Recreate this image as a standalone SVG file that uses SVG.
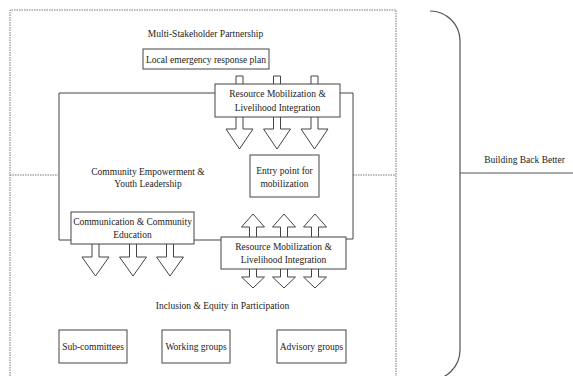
<svg xmlns="http://www.w3.org/2000/svg" width="573" height="376" viewBox="0 0 573 376">
<style>
text{font-family:"Liberation Serif","Times New Roman",serif;font-size:9.5px;fill:#222;text-anchor:middle}
.box{fill:#fff;stroke:#444;stroke-width:1}
.dash{fill:none;stroke:#777;stroke-width:1;stroke-dasharray:1.5 1}
.line{fill:none;stroke:#444;stroke-width:1}
.arr{fill:#fff;stroke:#444;stroke-width:1;stroke-linejoin:miter}
.br{fill:none;stroke:#555;stroke-width:1.2}
</style>
<defs>
<polygon id="down" points="-3.5,0 3.5,0 3.5,53 13.5,53 0,73 -13.5,53 -3.5,53"/>
<polygon id="down2" points="-3.5,0 3.5,0 3.5,17 13.5,17 0,36 -13.5,17 -3.5,17"/>
<polygon id="dbl" points="0,0 11.5,13 3.5,13 3.5,63 11.5,63 0,74 -11.5,63 -3.5,63 -3.5,13 -11.5,13"/>
</defs>
<g id="frame">
<path class="dash" d="M10,376 V10 H396 V376"/>
<path class="dash" d="M10,175 H58 M353,175 H396"/>
</g>
<g id="connectors">
<path class="line" d="M215,93 H59 V240 H71"/>
<path class="line" d="M194,240 H221"/>
<path class="line" d="M340,93 H353 V239 H346"/>
<use href="#down" class="arr" x="239.5" y="76"/>
<use href="#down" class="arr" x="277" y="76"/>
<use href="#down" class="arr" x="314.5" y="76"/>
<use href="#dbl" class="arr" x="253" y="214"/>
<use href="#dbl" class="arr" x="284" y="214"/>
<use href="#dbl" class="arr" x="315" y="214"/>
<use href="#down2" class="arr" x="95.5" y="240"/>
<use href="#down2" class="arr" x="133" y="240"/>
<use href="#down2" class="arr" x="170" y="240"/>
</g>
<g id="label-partnership"><text x="205.5" y="36.5">Multi-Stakeholder Partnership</text></g>
<g id="node-plan"><rect class="box" x="143" y="49" width="126" height="20"/><text x="206" y="62.5">Local emergency response plan</text></g>
<g id="node-resource-top"><rect class="box" x="215" y="84" width="125" height="33"/><text x="277.5" y="96.5">Resource Mobilization &amp;</text><text x="277.5" y="110.5">Livelihood Integration</text></g>
<g id="label-community"><text x="148" y="174.5">Community Empowerment &amp;</text><text x="148" y="187">Youth Leadership</text></g>
<g id="node-entry"><rect class="box" x="250" y="155" width="69" height="42"/><text x="284.5" y="173.5">Entry point for</text><text x="284.5" y="186.5">mobilization</text></g>
<g id="node-communication"><rect class="box" x="71" y="212" width="123" height="32"/><text x="132.5" y="225">Communication &amp; Community</text><text x="132.5" y="237.5">Education</text></g>
<g id="node-resource-bottom"><rect class="box" x="221" y="237" width="125" height="32"/><text x="283.5" y="249.5">Resource Mobilization &amp;</text><text x="283.5" y="262.5">Livelihood Integration</text></g>
<g id="label-inclusion"><text x="222.5" y="309">Inclusion &amp; Equity in Participation</text></g>
<g id="node-sub"><rect class="box" x="59" y="330" width="68" height="33"/><text x="93" y="349.5">Sub-committees</text></g>
<g id="node-working"><rect class="box" x="162" y="330" width="68" height="33"/><text x="196" y="349.5">Working groups</text></g>
<g id="node-advisory"><rect class="box" x="277" y="330" width="69" height="33"/><text x="311.5" y="349.5">Advisory groups</text></g>
<g id="bracket"><path class="br" d="M430,11 A30,30 0 0 1 460,41 V350 A30,30 0 0 1 430,380"/><path class="br" d="M460,173 H573"/><text x="524.5" y="163">Building Back Better</text></g>
</svg>
